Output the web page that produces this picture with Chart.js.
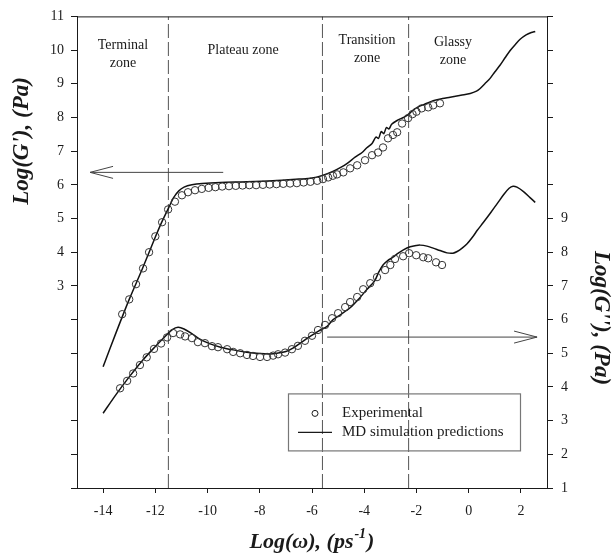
<!DOCTYPE html>
<html>
<head>
<meta charset="utf-8">
<title>Log(G') and Log(G'') vs Log(omega)</title>
<script src="https://cdn.jsdelivr.net/npm/chart.js@4.4.0/dist/chart.umd.min.js"></script>
<style>
  html, body { margin: 0; padding: 0; background: #fff; }
  #wrap { width: 613px; height: 553px; }
</style>
</head>
<body>
<div id="wrap"><canvas id="chart" width="613" height="553"></canvas></div>
<script>
// G' (left axis) - experimental points
const gpExpX = [-13.27, -13.0, -12.74, -12.47, -12.24, -12.0, -11.74, -11.51, -11.25, -10.98, -10.75, -10.48,
  -10.22, -9.96, -9.7, -9.44, -9.18, -8.92, -8.66, -8.4, -8.14, -7.88, -7.62, -7.36, -7.1, -6.84, -6.58,
  -6.32, -6.06, -5.8, -5.58, -5.38, -5.2, -5.04, -4.8, -4.54, -4.27, -3.97, -3.7, -3.47, -3.28, -3.09,
  -2.9, -2.74, -2.55, -2.32, -2.15, -2.0, -1.8, -1.55, -1.36, -1.1];
const gpExpY = [2.16, 2.6, 3.05, 3.52, 4.0, 4.47, 4.89, 5.27, 5.5, 5.69, 5.78, 5.84,
  5.88, 5.91, 5.93, 5.95, 5.96, 5.97, 5.98, 5.99, 5.99, 6.0, 6.01, 6.02, 6.03, 6.04, 6.05,
  6.07, 6.09, 6.12, 6.17, 6.22, 6.27, 6.31, 6.37, 6.49, 6.58, 6.73, 6.88, 6.96, 7.11, 7.38,
  7.48, 7.56, 7.82, 7.98, 8.1, 8.17, 8.27, 8.3, 8.36, 8.42];

// G' - MD simulation
const gpSimX = [-14.0, -13.5, -13.0, -12.5, -12.0, -11.75, -11.5, -11.3, -11.1, -10.9, -10.6, -10.2, -9.5,
  -8.5, -7.5, -6.5, -6.0, -5.6, -5.2, -4.9, -4.65, -4.35, -4.08, -3.9, -3.7, -3.55, -3.45, -3.35, -3.25,
  -3.15, -3.05, -2.95, -2.74, -2.5, -2.36, -2.15, -1.97, -1.6, -1.36, -1.0, -0.71, -0.3, 0.06, 0.3, 0.44,
  0.62, 0.82, 1.0, 1.2, 1.4, 1.59, 1.8, 1.97, 2.2, 2.4, 2.55];
const gpSimY = [0.6, 1.62, 2.6, 3.5, 4.45, 4.9, 5.3, 5.62, 5.82, 5.93, 6.0, 6.04, 6.07,
  6.09, 6.12, 6.17, 6.2, 6.28, 6.4, 6.52, 6.64, 6.82, 6.96, 7.1, 7.23, 7.42, 7.38, 7.58, 7.52,
  7.7, 7.66, 7.8, 7.91, 8.0, 8.06, 8.2, 8.3, 8.42, 8.5, 8.56, 8.6, 8.66, 8.71, 8.78, 8.86,
  9.0, 9.16, 9.35, 9.55, 9.78, 9.99, 10.18, 10.32, 10.45, 10.52, 10.55];

// G'' (right axis) - experimental points
const gppExpX = [-13.35, -13.08, -12.85, -12.59, -12.33, -12.05, -11.78, -11.55, -11.32, -11.05, -10.86,
  -10.6, -10.37, -10.1, -9.83, -9.6, -9.25, -9.02, -8.75, -8.49, -8.26, -7.99, -7.72, -7.49, -7.3, -7.03,
  -6.77, -6.54, -6.27, -6.0, -5.77, -5.5, -5.23, -5.0, -4.73, -4.54, -4.27, -4.04, -3.77, -3.51, -3.2,
  -3.0, -2.82, -2.51, -2.28, -2.01, -1.74, -1.55, -1.25, -1.02];
const gppExpY = [3.96, 4.18, 4.4, 4.65, 4.88, 5.13, 5.29, 5.47, 5.6, 5.56, 5.5,
  5.45, 5.33, 5.3, 5.21, 5.18, 5.12, 5.04, 5.0, 4.95, 4.92, 4.89, 4.89, 4.93, 4.97, 5.02,
  5.12, 5.22, 5.37, 5.52, 5.69, 5.84, 6.04, 6.19, 6.37, 6.52, 6.67, 6.9, 7.08, 7.26, 7.47,
  7.62, 7.8, 7.88, 7.97, 7.91, 7.85, 7.82, 7.7, 7.62];

// G'' - MD simulation
const gppSimX = [-14.0, -13.5, -13.0, -12.5, -12.0, -11.6, -11.35, -11.13, -10.9, -10.6, -10.3, -9.9, -9.5,
  -9.02, -8.5, -8.0, -7.6, -7.34, -7.0, -6.73, -6.45, -6.07, -5.75, -5.42, -5.19, -4.9, -4.54, -4.2,
  -3.89, -3.6, -3.45, -3.28, -3.1, -2.9, -2.74, -2.5, -2.24, -2.0, -1.86, -1.6, -1.36, -1.1, -0.83,
  -0.6, -0.44, -0.25, -0.06, 0.15, 0.33, 0.56, 0.82, 1.1, 1.35, 1.55, 1.7, 1.85, 2.1, 2.35, 2.55];
const gppSimY = [3.22, 3.78, 4.3, 4.78, 5.2, 5.52, 5.7, 5.77, 5.72, 5.58, 5.42, 5.28, 5.18,
  5.1, 5.03, 4.99, 4.98, 5.0, 5.05, 5.15, 5.3, 5.5, 5.66, 5.8, 6.0, 6.15, 6.35, 6.62,
  6.9, 7.15, 7.4, 7.62, 7.75, 7.85, 7.95, 8.07, 8.16, 8.2, 8.21, 8.18, 8.12, 8.05, 7.98,
  7.97, 8.02, 8.12, 8.25, 8.45, 8.65, 8.88, 9.15, 9.45, 9.72, 9.9, 9.96, 9.93, 9.8, 9.62, 9.48];

// zones
const zoneBounds = [-11.5, -5.6, -2.3];
const zoneNames = [['Terminal', 'zone'], ['Plateau zone'], ['Transition', 'zone'], ['Glassy', 'zone']];
const zoneLabelX = [-13.24, -8.64, -3.89, -0.6];
const zoneLabelY = [10.14, 9.99, 10.29, 10.23];

// arrows: [x start, x tip, y] (left arrow on G' axis, right arrow on G'' axis)
const leftArrow = [-9.4, -14.5, 6.37];
const rightArrow = [-5.42, 2.62, 5.48];

// axes
const xTicks = [-14, -12, -10, -8, -6, -4, -2, 0, 2];
const yLeftTicks = [-3, -2, -1, 0, 1, 2, 3, 4, 5, 6, 7, 8, 9, 10, 11];
const yRightTicks = [1, 2, 3, 4, 5, 6, 7, 8, 9, 10, 11, 12, 13, 14, 15];

const pts = (xs, ys) => xs.map((x, i) => ({ x: x, y: ys[i] }));
const serif = '"Liberation Serif", "Times New Roman", serif';
const ink = '#1a1a1a';

const zoneLines = zoneBounds.map(b => ({
  data: [{ x: b, y: -3 }, { x: b, y: 11 }],
  yAxisID: 'y',
  showLine: true,
  borderColor: '#555',
  borderWidth: 1,
  borderDash: [14, 4],
  pointRadius: 0,
  order: 5
}));

const arrowLine = (a, axis) => ({
  data: [{ x: a[0], y: a[2] }, { x: a[1], y: a[2] }],
  yAxisID: axis,
  showLine: true,
  borderColor: '#444',
  borderWidth: 1,
  pointRadius: 0,
  order: 4
});

// arrow heads, zone labels, legend, axis titles, top border
const overlay = {
  id: 'overlay',
  afterDatasetsDraw(chart) {
    const { ctx, chartArea, scales } = chart;
    ctx.save();

    // top frame line
    ctx.strokeStyle = ink;
    ctx.lineWidth = 1;
    ctx.beginPath();
    ctx.moveTo(chartArea.left, chartArea.top + 0.5);
    ctx.lineTo(chartArea.right, chartArea.top + 0.5);
    ctx.stroke();

    // open arrow heads
    const head = (a, ys) => {
      const tx = scales.x.getPixelForValue(a[1]);
      const ty = ys.getPixelForValue(a[2]);
      const dir = a[1] < a[0] ? 1 : -1;
      ctx.strokeStyle = '#444';
      ctx.beginPath();
      ctx.moveTo(tx + dir * 23, ty - 6);
      ctx.lineTo(tx, ty);
      ctx.lineTo(tx + dir * 23, ty + 6);
      ctx.stroke();
    };
    head(leftArrow, scales.y);
    head(rightArrow, scales.y2);

    // zone labels
    ctx.fillStyle = ink;
    ctx.font = '14px ' + serif;
    ctx.textAlign = 'center';
    ctx.textBaseline = 'middle';
    zoneNames.forEach((lines, i) => {
      const px = scales.x.getPixelForValue(zoneLabelX[i]);
      const py = scales.y.getPixelForValue(zoneLabelY[i]);
      lines.forEach((t, j) => ctx.fillText(t, px, py + j * 18));
    });

    // legend
    const lx = chartArea.left + 211, ly = chartArea.top + 377;
    ctx.strokeStyle = '#777';
    ctx.lineWidth = 1.2;
    ctx.strokeRect(lx + 0.5, ly + 0.5, 232, 57);
    ctx.strokeStyle = ink;
    ctx.lineWidth = 1;
    ctx.beginPath();
    ctx.arc(lx + 27, ly + 20, 3, 0, Math.PI * 2);
    ctx.stroke();
    ctx.lineWidth = 1.4;
    ctx.beginPath();
    ctx.moveTo(lx + 10, ly + 39);
    ctx.lineTo(lx + 44, ly + 39);
    ctx.stroke();
    ctx.textAlign = 'left';
    ctx.font = '15px ' + serif;
    ctx.fillText('Experimental', lx + 54, ly + 20);
    ctx.fillText('MD simulation predictions', lx + 54, ly + 39);

    // axis titles
    ctx.font = 'bold italic 23px ' + serif;
    ctx.textAlign = 'center';
    ctx.save();
    ctx.translate(22, 141);
    ctx.rotate(-Math.PI / 2);
    ctx.fillText("Log(G'), (Pa)", 0, 0);
    ctx.restore();

    ctx.save();
    ctx.translate(601, 318);
    ctx.rotate(Math.PI / 2);
    ctx.fillText("Log(G''), (Pa)", 0, 0);
    ctx.restore();

    // x title with superscript
    ctx.font = 'bold italic 22px ' + serif;
    const main = 'Log(\u03c9), (ps';
    const sup = '-1';
    const tail = ')';
    const wMain = ctx.measureText(main).width;
    const wTail = ctx.measureText(tail).width;
    ctx.font = 'bold italic 14px ' + serif;
    const wSup = ctx.measureText(sup).width;
    const total = wMain + wSup + wTail + 2;
    let x0 = (chartArea.left + chartArea.right) / 2 - total / 2;
    const yb = 542;
    ctx.textAlign = 'left';
    ctx.font = 'bold italic 22px ' + serif;
    ctx.fillText(main, x0, yb);
    ctx.font = 'bold italic 14px ' + serif;
    ctx.fillText(sup, x0 + wMain + 1, yb - 8);
    ctx.font = 'bold italic 22px ' + serif;
    ctx.fillText(tail, x0 + wMain + wSup + 2, yb);

    ctx.restore();
  }
};

const tickFont = { family: serif, size: 14 };

new Chart(document.getElementById('chart'), {
  type: 'scatter',
  data: {
    datasets: [
      {
        label: 'Experimental',
        data: pts(gpExpX, gpExpY),
        yAxisID: 'y',
        pointStyle: 'circle',
        pointRadius: 3.7,
        borderColor: '#333',
        borderWidth: 1,
        backgroundColor: 'rgba(255,255,255,0)',
        order: 1
      },
      {
        label: 'MD simulation predictions',
        data: pts(gpSimX, gpSimY),
        yAxisID: 'y',
        showLine: true,
        borderColor: '#111',
        borderWidth: 1.5,
        pointRadius: 0,
        tension: 0.3,
        order: 2
      },
      {
        label: 'Experimental G\'\'',
        data: pts(gppExpX, gppExpY),
        yAxisID: 'y2',
        pointStyle: 'circle',
        pointRadius: 3.7,
        borderColor: '#333',
        borderWidth: 1,
        backgroundColor: 'rgba(255,255,255,0)',
        order: 1
      },
      {
        label: 'MD simulation G\'\'',
        data: pts(gppSimX, gppSimY),
        yAxisID: 'y2',
        showLine: true,
        borderColor: '#111',
        borderWidth: 1.5,
        pointRadius: 0,
        tension: 0.3,
        order: 2
      },
      ...zoneLines,
      arrowLine(leftArrow, 'y'),
      arrowLine(rightArrow, 'y2')
    ]
  },
  options: {
    responsive: false,
    animation: false,
    devicePixelRatio: 1,
    layout: { padding: { top: 16, left: 0, right: 0, bottom: 0 } },
    plugins: {
      legend: { display: false },
      tooltip: { enabled: false }
    },
    scales: {
      x: {
        type: 'linear',
        min: -15,
        max: 3,
        afterBuildTicks: s => { s.ticks = xTicks.map(v => ({ value: v })); },
        afterFit: s => { s.height = 65; },
        border: { display: true, color: ink, width: 1 },
        grid: { drawOnChartArea: false, tickLength: 5, tickColor: ink },
        ticks: { font: tickFont, color: ink, padding: 10 }
      },
      y: {
        type: 'linear',
        position: 'left',
        min: -3,
        max: 11,
        afterBuildTicks: s => { s.ticks = yLeftTicks.map(v => ({ value: v })); },
        afterFit: s => { s.width = 77; },
        border: { display: true, color: ink, width: 1 },
        grid: { drawOnChartArea: false, tickLength: 6, tickColor: ink },
        ticks: { font: tickFont, color: ink, padding: 7, callback: v => (v >= 3 ? v : '') }
      },
      y2: {
        type: 'linear',
        position: 'right',
        min: 1,
        max: 15,
        afterBuildTicks: s => { s.ticks = yRightTicks.map(v => ({ value: v })); },
        afterFit: s => { s.width = 66; },
        border: { display: true, color: ink, width: 1 },
        grid: { drawOnChartArea: false, tickLength: 6, tickColor: ink },
        ticks: { font: tickFont, color: ink, padding: 8, callback: v => (v <= 9 ? v : '') }
      }
    }
  },
  plugins: [overlay]
});
</script>
</body>
</html>
